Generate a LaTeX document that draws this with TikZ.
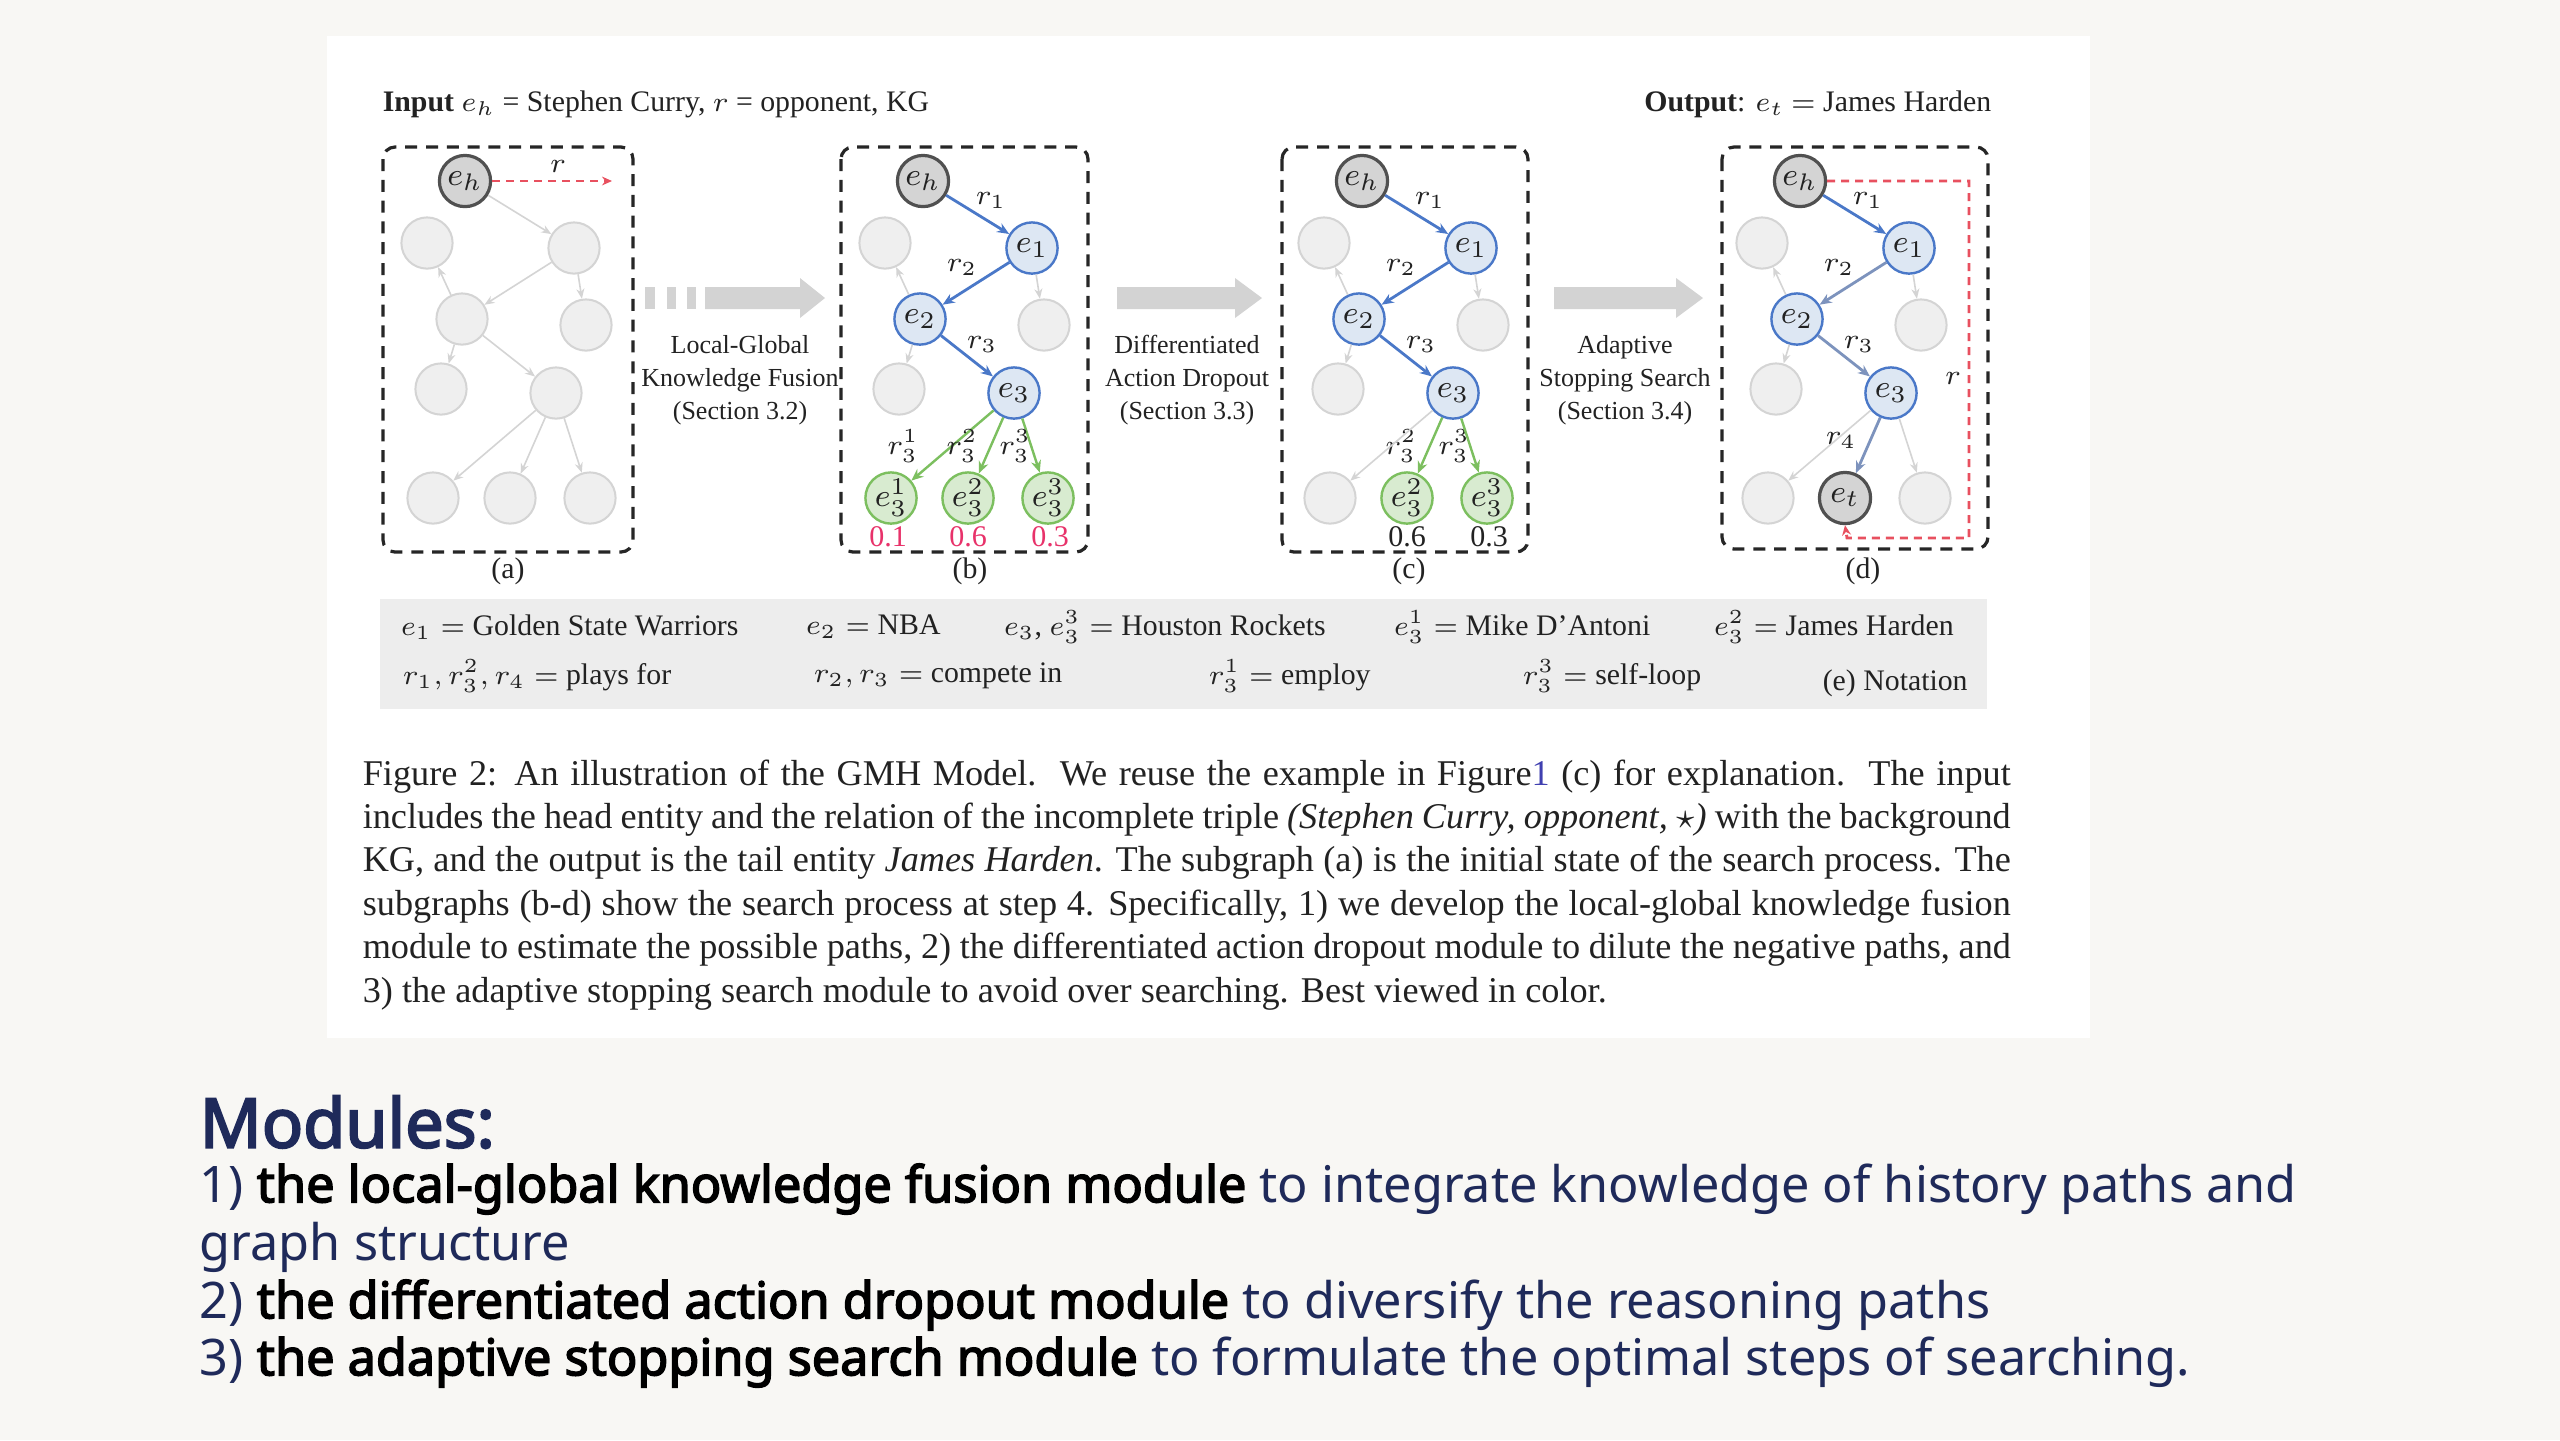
\documentclass[tikz,border=0pt]{standalone}
\usepackage{fontspec}
\setmainfont{Liberation Serif}
\newfontfamily\modfont{Noto Sans}[AutoFakeBold=3]
\usetikzlibrary{arrows.meta}
\definecolor{pagebg}{HTML}{F8F7F4}
\definecolor{gnode}{HTML}{EFEFEF}
\definecolor{gline}{HTML}{D4D4D4}
\definecolor{bfill}{HTML}{DDE7F3}
\definecolor{bline}{HTML}{4A78C8}
\definecolor{blinetwo}{HTML}{7D93BD}
\definecolor{gfill}{HTML}{D8EBD0}
\definecolor{glinec}{HTML}{7CBF5F}
\definecolor{hfill}{HTML}{D4D4D4}
\definecolor{hline}{HTML}{505050}
\definecolor{redd}{HTML}{E8505F}
\definecolor{pinknum}{HTML}{E8326A}
\definecolor{notebg}{HTML}{EDEDED}
\definecolor{navy}{HTML}{1F2A5A}
\definecolor{arrowg}{HTML}{D3D3D3}
\definecolor{txt}{HTML}{222222}
\definecolor{linkc}{HTML}{4040B0}
\begin{document}
\begin{tikzpicture}[x=0.25pt,y=-0.25pt,
  ent/.style={circle,minimum size=12.8pt,inner sep=0pt,font=\fontsize{8.5}{9}\selectfont,text=txt},
  greynode/.style={ent,fill=gnode,draw=gline,line width=0.5pt},
  headnode/.style={ent,fill=hfill,draw=hline,line width=0.8pt},
  bluenode/.style={ent,fill=bfill,draw=bline,line width=0.6pt},
  greennode/.style={ent,fill=gfill,draw=glinec,line width=0.6pt},
  gedge/.style={draw=gline,line width=0.4pt,-{Stealth[length=2.5pt,width=2pt]}},
  bedge/.style={draw=bline,line width=0.7pt,-{Stealth[length=3pt,width=2.5pt]}},
  bedgetwo/.style={draw=blinetwo,line width=0.7pt,-{Stealth[length=3pt,width=2.5pt]}},
  grnedge/.style={draw=glinec,line width=0.6pt,-{Stealth[length=3pt,width=2.5pt]}},
  redge/.style={draw=redd,line width=0.7pt,dash pattern=on 2pt off 1.5pt},
  pbox/.style={draw=black!85,line width=0.8pt,dash pattern=on 3pt off 2.2pt,rounded corners=3pt},
  elab/.style={font=\fontsize{7}{8}\selectfont,text=txt,inner sep=0pt},
  figtxt/.style={font=\fontsize{7.45}{9}\selectfont,text=txt,inner sep=0pt},
  arrlab/.style={font=\fontsize{6.5}{8.2}\selectfont,text=txt,align=center,inner sep=0pt},
  numlab/.style={font=\fontsize{7.5}{9}\selectfont,inner sep=0pt},
  blockarrow/.style={fill=arrowg,draw=none},
  modline/.style={anchor=west,inner sep=0pt,font=\modfont\fontsize{12.6}{14}\selectfont,text=navy}
]
\useasboundingbox (0,0) rectangle (2560,1440);
\fill[pagebg] (0,0) rectangle (2560,1440);
\fill[white] (327,36) rectangle (2090,1038);

% titles
\node[figtxt,anchor=west] (input) at (382,104) {\textbf{Input} $e_h$ = Stephen Curry, $r$ = opponent, KG};
\node[figtxt,anchor=east] (output) at (1992,104) {\textbf{Output}: $e_t$ $=$ James Harden};

% ---------------- panel (a)
\begin{scope}[xshift=-114.5pt]
\node[headnode] (a-eh) at (923,181) {$e_h$};
\node[greynode] (a-g1) at (885,243) {};
\node[greynode] (a-n1) at (1032,248) {};
\node[greynode] (a-n2) at (920,319) {};
\node[greynode] (a-g2) at (1044,325) {};
\node[greynode] (a-g3) at (899,389) {};
\node[greynode] (a-n3) at (1014,393) {};
\node[greynode] (a-b1) at (891,498) {};
\node[greynode] (a-b2) at (968,498) {};
\node[greynode] (a-b3) at (1048,498) {};
\coordinate (a-rend) at (1070,181);
\node[elab] (a-rl) at (1016,166) {$r$};
\end{scope}
\draw[gedge] (a-eh) -- (a-n1);
\draw[gedge] (a-n2) -- (a-g1);
\draw[gedge] (a-n1) -- (a-n2);
\draw[gedge] (a-n1) -- (a-g2);
\draw[gedge] (a-n2) -- (a-g3);
\draw[gedge] (a-n2) -- (a-n3);
\draw[gedge] (a-n3) -- (a-b1);
\draw[gedge] (a-n3) -- (a-b2);
\draw[gedge] (a-n3) -- (a-b3);
\draw[redge,-{Stealth[length=2.5pt,width=2.2pt]}] (a-eh) -- (a-rend);

% ---------------- panel (b)
\node[headnode] (b-eh) at (923,181) {$e_h$};
\node[greynode] (b-g1) at (885,243) {};
\node[bluenode] (b-n1) at (1032,248) {$e_1$};
\node[bluenode] (b-n2) at (920,319) {$e_2$};
\node[greynode] (b-g2) at (1044,325) {};
\node[greynode] (b-g3) at (899,389) {};
\node[bluenode] (b-n3) at (1014,393) {$e_3$};
\node[greennode] (b-b1) at (891,498) {$e_3^1$};
\node[greennode] (b-b2) at (968,498) {$e_3^2$};
\node[greennode] (b-b3) at (1048,498) {$e_3^3$};
\draw[gedge] (b-n2) -- (b-g1);
\draw[gedge] (b-n1) -- (b-g2);
\draw[gedge] (b-n2) -- (b-g3);
\draw[bedge] (b-eh) -- (b-n1);
\draw[bedge] (b-n1) -- (b-n2);
\draw[bedge] (b-n2) -- (b-n3);
\draw[grnedge] (b-n3) -- (b-b1);
\draw[grnedge] (b-n3) -- (b-b2);
\draw[grnedge] (b-n3) -- (b-b3);
\node[elab] (b-r1) at (991,200) {$r_1$};
\node[elab] (b-r2) at (962,267) {$r_2$};
\node[elab] (b-r3) at (982,344) {$r_3$};
\node[elab] (b-r31) at (903,446) {$r_3^1$};
\node[elab] (b-r32) at (962,446) {$r_3^2$};
\node[elab] (b-r33) at (1015,446) {$r_3^3$};
\node[numlab,text=pinknum] (b-p1) at (888,537) {0.1};
\node[numlab,text=pinknum] (b-p2) at (968,537) {0.6};
\node[numlab,text=pinknum] (b-p3) at (1050,537) {0.3};

% ---------------- panel (c)
\begin{scope}[xshift=109.75pt]
\node[headnode] (c-eh) at (923,181) {$e_h$};
\node[greynode] (c-g1) at (885,243) {};
\node[bluenode] (c-n1) at (1032,248) {$e_1$};
\node[bluenode] (c-n2) at (920,319) {$e_2$};
\node[greynode] (c-g2) at (1044,325) {};
\node[greynode] (c-g3) at (899,389) {};
\node[bluenode] (c-n3) at (1014,393) {$e_3$};
\node[greynode] (c-b1) at (891,498) {};
\node[greennode] (c-b2) at (968,498) {$e_3^2$};
\node[greennode] (c-b3) at (1048,498) {$e_3^3$};
\node[elab] (c-r1) at (991,200) {$r_1$};
\node[elab] (c-r2) at (962,267) {$r_2$};
\node[elab] (c-r3) at (982,344) {$r_3$};
\node[elab] (c-r32) at (962,446) {$r_3^2$};
\node[elab] (c-r33) at (1015,446) {$r_3^3$};
\node[numlab,text=txt] (c-p2) at (968,537) {0.6};
\node[numlab,text=txt] (c-p3) at (1050,537) {0.3};
\end{scope}
\draw[gedge] (c-n2) -- (c-g1);
\draw[gedge] (c-n1) -- (c-g2);
\draw[gedge] (c-n2) -- (c-g3);
\draw[gedge] (c-n3) -- (c-b1);
\draw[bedge] (c-eh) -- (c-n1);
\draw[bedge] (c-n1) -- (c-n2);
\draw[bedge] (c-n2) -- (c-n3);
\draw[grnedge] (c-n3) -- (c-b2);
\draw[grnedge] (c-n3) -- (c-b3);

% ---------------- panel (d)
\begin{scope}[xshift=219.25pt]
\node[headnode] (d-eh) at (923,181) {$e_h$};
\node[greynode] (d-g1) at (885,243) {};
\node[bluenode] (d-n1) at (1032,248) {$e_1$};
\node[bluenode] (d-n2) at (920,319) {$e_2$};
\node[greynode] (d-g2) at (1044,325) {};
\node[greynode] (d-g3) at (899,389) {};
\node[bluenode] (d-n3) at (1014,393) {$e_3$};
\node[greynode] (d-b1) at (891,498) {};
\node[headnode] (d-b2) at (968,498) {$e_t$};
\node[greynode] (d-b3) at (1048,498) {};
\node[elab] (d-r1) at (991,200) {$r_1$};
\node[elab] (d-r2) at (962,267) {$r_2$};
\node[elab] (d-r3) at (982,344) {$r_3$};
\node[elab] (d-r4) at (964,440) {$r_4$};
\end{scope}
\coordinate (d-c1) at (1969,181);
\coordinate (d-c2) at (1969,538);
\coordinate (d-c3) at (1847,538);
\node[elab] (d-rl) at (1953,378) {$r$};
\draw[gedge] (d-n2) -- (d-g1);
\draw[gedge] (d-n1) -- (d-g2);
\draw[gedge] (d-n2) -- (d-g3);
\draw[gedge] (d-n3) -- (d-b1);
\draw[gedge] (d-n3) -- (d-b3);
\draw[bedge] (d-eh) -- (d-n1);
\draw[bedgetwo] (d-n1) -- (d-n2);
\draw[bedgetwo] (d-n2) -- (d-n3);
\draw[bedgetwo] (d-n3) -- (d-b2);
\draw[redge,-{Stealth[length=2.5pt,width=2.2pt]}] (d-eh.east) -- (d-c1) -- (d-c2) -- (d-c3) -- (d-b2.south);

% ---------------- dashed panel boxes
\draw[pbox] (383,147) rectangle (633,552);
\draw[pbox] (841,147) rectangle (1088,552);
\draw[pbox] (1282,147) rectangle (1528,552);
\draw[pbox] (1722,147) rectangle (1988,549);

\node[figtxt] (cap-a) at (508,571) {(a)};
\node[figtxt] (cap-b) at (970,571) {(b)};
\node[figtxt] (cap-c) at (1409,571) {(c)};
\node[figtxt] (cap-d) at (1863,571) {(d)};

% ---------------- block arrows
\fill[arrowg] (645,287) rectangle (655,309);
\fill[arrowg] (667,287) rectangle (676,309);
\fill[arrowg] (687,287) rectangle (696,309);
\fill[blockarrow] (705,287) -- (800,287) -- (800,278) -- (825,298) -- (800,318) -- (800,309) -- (705,309) -- cycle;
\fill[blockarrow] (1117,287) -- (1235,287) -- (1235,278) -- (1262,298) -- (1235,318) -- (1235,309) -- (1117,309) -- cycle;
\fill[blockarrow] (1554,287) -- (1676,287) -- (1676,278) -- (1703,298) -- (1676,318) -- (1676,309) -- (1554,309) -- cycle;
\node[arrlab] (lab-ab) at (740,380) {Local-Global\\Knowledge Fusion\\(Section 3.2)};
\node[arrlab] (lab-bc) at (1187,380) {Differentiated\\Action Dropout\\(Section 3.3)};
\node[arrlab] (lab-cd) at (1625,380) {Adaptive\\Stopping Search\\(Section 3.4)};

% ---------------- notation
\fill[notebg] (380,599) rectangle (1987,709);
\node[figtxt,anchor=west] (n1) at (400,627) {$e_1 =$ Golden State Warriors};
\node[figtxt,anchor=west] (n2) at (805,627) {$e_2 =$ NBA};
\node[figtxt,anchor=west] (n3) at (1003,627) {$e_3$, $e_3^3 =$ Houston Rockets};
\node[figtxt,anchor=west] (n4) at (1393,627) {$e_3^1 =$ Mike D'Antoni};
\node[figtxt,anchor=west] (n5) at (1713,627) {$e_3^2 =$ James Harden};
\node[figtxt,anchor=west] (n6) at (402,676) {$r_1, r_3^2, r_4 =$ plays for};
\node[figtxt,anchor=west] (n7) at (813,676) {$r_2, r_3 =$ compete in};
\node[figtxt,anchor=west] (n8) at (1208,676) {$r_3^1 =$ employ};
\node[figtxt,anchor=west] (n9) at (1522,676) {$r_3^3 =$ self-loop};
\node[figtxt,anchor=west] (n10) at (1822,683) {(e) Notation};

% ---------------- caption
\node[anchor=base west,inner sep=0pt,text=txt] (caption) at (362,785) {\parbox[t]{412pt}{\fontsize{9.06}{10.87}\selectfont
Figure 2: An illustration of the GMH Model.\ \ We reuse the example in Figure\textcolor{linkc}{1} (c) for explanation.\ \ The input\linebreak
includes the head entity and the relation of the incomplete triple \textit{(Stephen Curry, opponent, $\star$)} with the background\linebreak
KG, and the output is the tail entity \textit{James Harden}. The subgraph (a) is the initial state of the search process. The\linebreak
subgraphs (b-d) show the search process at step 4. Specifically, 1) we develop the local-global knowledge fusion\linebreak
module to estimate the possible paths, 2) the differentiated action dropout module to dilute the negative paths, and\linebreak
3) the adaptive stopping search module to avoid over searching. Best viewed in color.}};

% ---------------- modules
\node[anchor=west,inner sep=0pt,font=\modfont\bfseries\fontsize{17.1}{19}\selectfont,text=navy] (mods) at (199,1122) {Modules:};
\node[modline] (m1) at (199,1189) {1) \textcolor{black}{\bfseries the local-global knowledge fusion module} to integrate knowledge of history paths and};
\node[modline] (m2) at (199,1247) {graph structure};
\node[modline] (m3) at (199,1305) {2) \textcolor{black}{\bfseries the differentiated action dropout module} to diversify the reasoning paths};
\node[modline] (m4) at (199,1362) {3) \textcolor{black}{\bfseries the adaptive stopping search module} to formulate the optimal steps of searching.};
\end{tikzpicture}
\end{document}
